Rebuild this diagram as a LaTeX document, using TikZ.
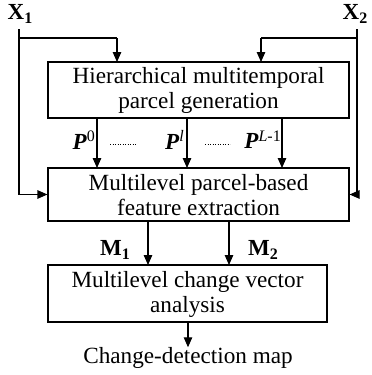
\documentclass[tikz,border=0pt]{standalone}
\usepackage{fontspec}
\setmainfont{Liberation Serif}
\usetikzlibrary{arrows.meta}
\newcommand{\mysub}[1]{\raisebox{-0.35ex}{\fontsize{16}{16}\selectfont #1}}
\newcommand{\mysup}[1]{\raisebox{0.7ex}{\fontsize{16}{16}\selectfont #1}}
\begin{document}
\begin{tikzpicture}[x=1pt,y=-1pt,
  box/.style={draw,line width=1.2pt,inner sep=0pt},
  txt/.style={font=\fontsize{23.2}{25}\selectfont,align=center,inner sep=0pt},
  lab/.style={font=\fontsize{23}{25}\selectfont,inner sep=0pt},
  arr/.style={line width=1.2pt,-{Triangle[length=10pt,width=8.5pt]}},
  ln/.style={line width=1.2pt}]
\useasboundingbox (0,0) rectangle (372,375);
\node[lab] (x1) at (20,14) {\textbf{X\mysub{1}}};
\node[lab] (x2) at (355,14) {\textbf{X\mysub{2}}};
\node[box,minimum width=301pt,minimum height=56pt] (b1) at (198.5,90) {};
\node[txt] at (198.5,90) {Hierarchical multitemporal\\parcel generation};
\node[box,minimum width=301pt,minimum height=53pt] (b2) at (198.5,194.5) {};
\node[txt] at (198.5,195) {Multilevel parcel-based\\feature extraction};
\node[box,minimum width=279pt,minimum height=57pt] (b3) at (187.5,293.5) {};
\node[txt] at (187.5,294) {Multilevel change vector\\analysis};
\node[txt] (out) at (188,358) {Change-detection map};
\coordinate (l1) at (19,29);
\coordinate (r1) at (357,29);
% X1 feeds
\draw[ln] (l1) |- (117,38);
\draw[arr] (117,38) -- (117,62);
\draw[arr] (l1) |- (b2.west);
% X2 feeds
\draw[ln] (r1) |- (261,38);
\draw[arr] (261,38) -- (261,62);
\draw[arr] (r1) |- (b2.east);
% P arrows
\draw[arr] (97,118) -- (97,168);
\draw[arr] (187,118) -- (187,168);
\draw[arr] (282,118) -- (282,168);
\node[lab,anchor=east] at (95,140) {\textbf{\textit{P}}\mysup{0}};
\node[lab,anchor=east] at (184,140) {\textbf{\textit{P}}\mysup{\textit{l}}};
\node[lab,anchor=east] at (281,140) {\textbf{\textit{P}}\mysup{\textit{L}-1}};
\draw[line width=0.5pt,dotted] (110,144) -- (137,144);
\draw[line width=0.5pt,dotted] (205,144) -- (230,144);
% M arrows
\draw[arr] (148,221) -- (148,265);
\draw[arr] (229,221) -- (229,265);
\node[lab] at (115,250) {\textbf{M\mysub{1}}};
\node[lab] at (263,250) {\textbf{M\mysub{2}}};
% output
\draw[arr] (b3.south -| out) -- (out.north);
\end{tikzpicture}
\end{document}
